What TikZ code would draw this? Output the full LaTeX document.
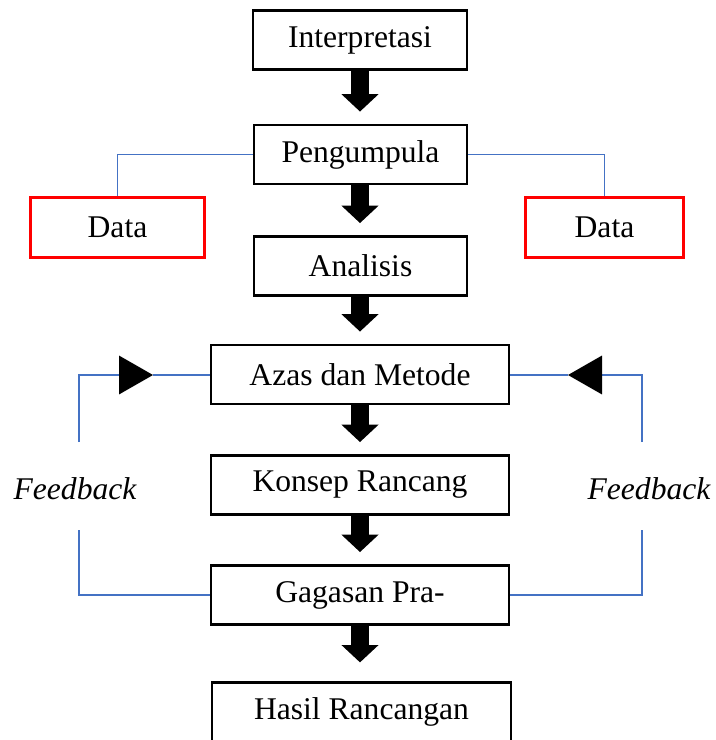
\documentclass[tikz,border=0pt]{standalone}
\usepackage{fontspec}
\setmainfont{Liberation Serif}
\usetikzlibrary{arrows.meta}
\definecolor{lineblue}{RGB}{68,114,196}
\begin{document}
\begin{tikzpicture}[x=0.75pt,y=-0.75pt,
  box/.style={draw,line width=1.9pt,inner sep=0pt,minimum width=#1,minimum height=44.5pt,
    font=\fontsize{23.7}{28}\selectfont},
  databox/.style={box=#1,draw=red,line width=2.2pt},
  bigarrow/.style={line width=13.5pt,-{Triangle[width=27pt,length=13pt]},shorten >=9pt},
  fbline/.style={draw=lineblue,line width=0.8pt},
  fbtip/.style={-{Triangle[width=29pt,length=25.5pt,color=black]}},
  fbtext/.style={font=\fontsize{23.7}{28}\selectfont\itshape}]
\clip (0,0) rectangle (716,740);
%
\node[box=160.5pt] (interp) at (360,40) {Interpretasi};
\node[box=160pt] (peng) at (360.5,154.5) {Pengumpula};
\node[box=160pt] (anal) at (360.5,266) {Analisis};
\node[databox=131pt] (dataL) at (117.5,227.5) {Data};
\node[databox=118pt] (dataR) at (604.5,227.5) {Data};
%
\node[box=223.5pt] (azas) at (360,374.5) {Azas dan Metode};
\node[box=223.5pt] (konsep) at (360,485) {Konsep Rancang};
\node[box=223.5pt] (gagasan) at (360,595) {Gagasan Pra-};
\node[box=224pt] (hasil) at (361.5,712) {Hasil Rancangan};
%
\draw[bigarrow] (interp.south) -- (interp.south |- peng.north);
\draw[bigarrow] (peng.south -| interp.south) -- (interp.south |- anal.north);
\draw[bigarrow] (anal.south -| interp.south) -- (interp.south |- azas.north);
\draw[bigarrow] (azas.south) -- (konsep.north);
\draw[bigarrow] (konsep.south) -- (gagasan.north);
\draw[bigarrow,shorten >=14pt] (gagasan.south) -- (gagasan.south |- hasil.north);
%
\draw[fbline] (peng.west) -| (dataL.north);
\draw[fbline] (peng.east) -| (dataR.north);
%
\coordinate (fbLtop) at (79,442);
\coordinate (fbLbot) at (79,530);
\coordinate (tipL) at (153,375);
\draw[fbline,fbtip] (fbLtop) |- (tipL);
\draw[fbline] (tipL) -- (tipL -| azas.west);
\draw[fbline] (fbLbot) |- (gagasan.west);
\node[fbtext] (fbL) at (75,489) {Feedback};
%
\coordinate (fbRtop) at (642,442);
\coordinate (fbRbot) at (642,530);
\coordinate (tipR) at (568,375);
\draw[fbline,fbtip] (fbRtop) |- (tipR);
\draw[fbline] (tipR) -- (tipR -| azas.east);
\draw[fbline] (fbRbot) |- (gagasan.east);
\node[fbtext] (fbR) at (649,489) {Feedback};
%
\end{tikzpicture}
\end{document}
